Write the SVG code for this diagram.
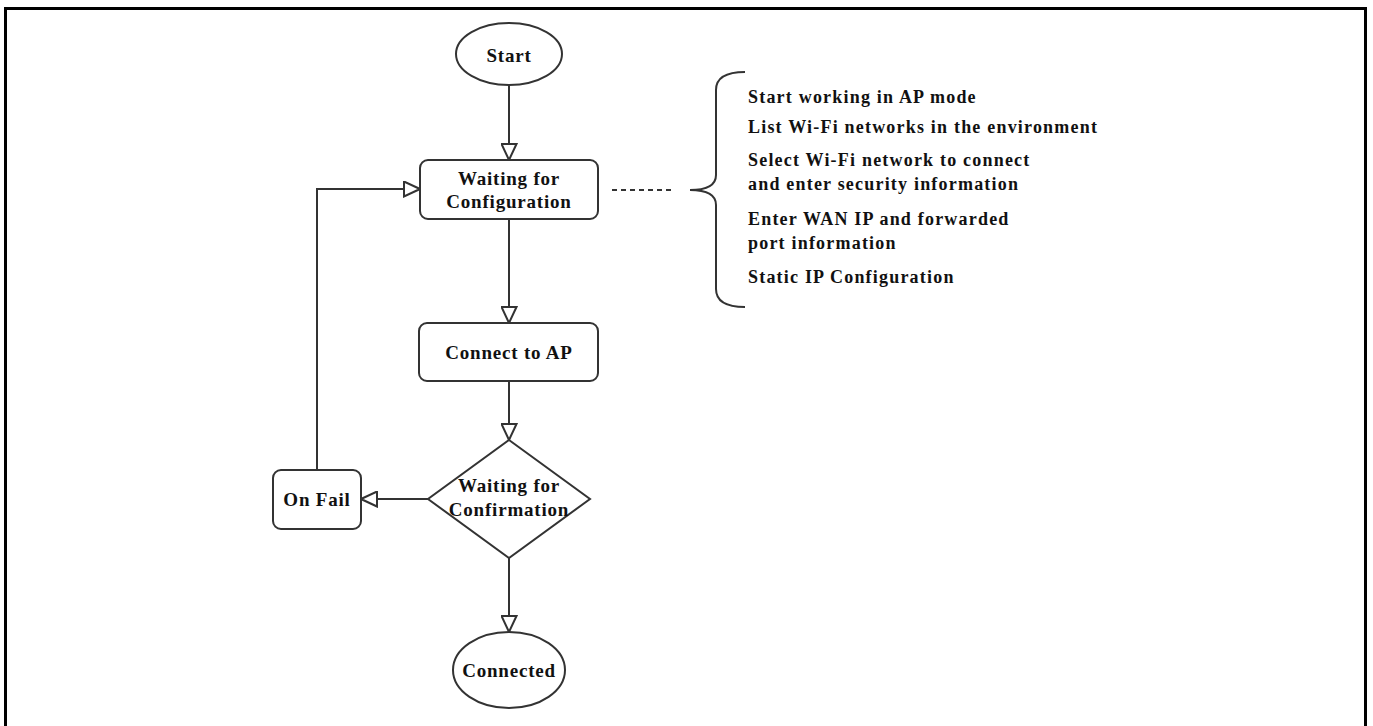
<svg xmlns="http://www.w3.org/2000/svg" width="1373" height="726" viewBox="0 0 1373 726">
<defs>
<style>
.shape{fill:#fff;stroke:#333;stroke-width:2}
.conn{fill:none;stroke:#333;stroke-width:2}
.lbl{font-family:"Liberation Serif","Times New Roman",serif;font-weight:bold;font-size:19px;letter-spacing:0.8px;fill:#111;text-anchor:middle}
.item{font-family:"Liberation Serif","Times New Roman",serif;font-weight:bold;font-size:18px;letter-spacing:1.2px;fill:#111}
</style>
<marker id="arr" markerUnits="userSpaceOnUse" markerWidth="18" markerHeight="17" refX="16" refY="7.5" orient="auto" viewBox="-1 -1 18 17">
<path d="M0,0 L16,7.5 L0,15 Z" fill="#fff" stroke="#333" stroke-width="2"/>
</marker>
</defs>
<rect width="1373" height="726" fill="#fff"/>
<rect x="5.5" y="8.5" width="1360" height="730" fill="none" stroke="#000" stroke-width="3"/>
<g id="connectors">
<line class="conn" x1="509" y1="85" x2="509" y2="160" marker-end="url(#arr)"/>
<line class="conn" x1="509" y1="219" x2="509" y2="323" marker-end="url(#arr)"/>
<line class="conn" x1="509" y1="381" x2="509" y2="440" marker-end="url(#arr)"/>
<line class="conn" x1="509" y1="558" x2="509" y2="632" marker-end="url(#arr)"/>
<line class="conn" x1="428" y1="499" x2="361" y2="499" marker-end="url(#arr)"/>
<polyline class="conn" points="317,470 317,189 420,189" marker-end="url(#arr)"/>
<line class="conn" x1="612" y1="190" x2="672" y2="190" stroke-dasharray="5,4"/>
</g>
<g id="start">
<ellipse class="shape" cx="509" cy="54" rx="53" ry="31"/>
<text class="lbl" x="509" y="62">Start</text>
</g>
<g id="waiting-config">
<rect class="shape" x="420" y="160" width="178" height="59" rx="8"/>
<text class="lbl" x="509" y="185">Waiting for</text>
<text class="lbl" x="509" y="208">Configuration</text>
</g>
<g id="connect-ap">
<rect class="shape" x="419" y="323" width="179" height="58" rx="8"/>
<text class="lbl" x="509" y="359">Connect to AP</text>
</g>
<g id="waiting-confirm">
<polygon class="shape" points="509,440 590,499 509,558 428,499"/>
<text class="lbl" x="509" y="492">Waiting for</text>
<text class="lbl" x="509" y="516">Confirmation</text>
</g>
<g id="on-fail">
<rect class="shape" x="273" y="470" width="88" height="59" rx="8"/>
<text class="lbl" x="317" y="506">On Fail</text>
</g>
<g id="connected">
<ellipse class="shape" cx="509" cy="670" rx="56" ry="38"/>
<text class="lbl" x="509" y="677">Connected</text>
</g>
<g id="config-steps">
<path class="conn" d="M745,72 Q716,72 716,90 L716,175 Q716,190 690,190 Q716,190 716,205 L716,289 Q716,307 745,307"/>
<text class="item" x="748" y="103">Start working in AP mode</text>
<text class="item" x="748" y="133">List Wi-Fi networks in the environment</text>
<text class="item" x="748" y="166">Select Wi-Fi network to connect</text>
<text class="item" x="748" y="190">and enter security information</text>
<text class="item" x="748" y="225">Enter WAN IP and forwarded</text>
<text class="item" x="748" y="249">port information</text>
<text class="item" x="748" y="283">Static IP Configuration</text>
</g>
</svg>
